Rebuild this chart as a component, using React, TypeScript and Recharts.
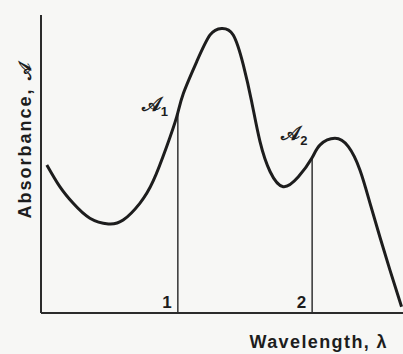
import { Label, Line, LineChart, ReferenceLine, XAxis, YAxis } from "recharts";

// wavelength in arbitrary units (0-100), absorbance in arbitrary units (0-100)
const wavelengths = [
  1.6, 5.2, 8.9, 13.5, 18.6, 22.7, 27.3, 31.0, 34.7, 37.5, 39.3, 43.0, 46.7, 49.9, 53.1,
  55.9, 58.2, 60.5, 63.3, 66.9, 71.1, 74.8, 77.1, 81.2, 84.9, 88.1, 90.9, 93.6, 96.4, 99.6,
];
const absorbance = [
  49.7, 42.4, 36.8, 31.8, 29.9, 31.2, 36.8, 44.3, 55.8, 65.9, 73.6, 84.3, 93.3, 95.5, 93.3,
  83.2, 70.9, 57.5, 47.4, 42.4, 45.7, 51.9, 56.4, 58.6, 55.8, 48.0, 36.8, 25.6, 14.4, 2.1,
];
const markerWavelengths = [37.8, 74.9];
const markerAbsorbance = [67.5, 52];
const markerTicks = ["1", "2"];

const rows = wavelengths.map((w, i) => ({ wavelength: w, absorbance: absorbance[i] }));

const INK = "#1d1d1d";
const FONT = "'Liberation Sans', Arial, sans-serif";

function markerLabel(index: number, dx: number, dy: number) {
  return (props: any) => {
    const vb = props.viewBox ?? {};
    const x = vb.x ?? 0;
    const top = vb.y ?? 0;
    const bottom = top + (vb.height ?? 0);
    return (
      <g>
        <text
          x={x - 6}
          y={bottom - 5}
          textAnchor="end"
          fontFamily={FONT}
          fontSize={17}
          fontWeight={600}
          fill={INK}
        >
          {markerTicks[index]}
        </text>
        <text x={x + dx} y={top + dy} fontFamily={FONT} fontSize={20} fontWeight={700} fill={INK}>
          𝒜
          <tspan fontSize={13} dy={5}>
            {markerTicks[index]}
          </tspan>
        </text>
      </g>
    );
  };
}

export default function App() {
  return (
    <div style={{ width: 403, height: 354, background: "#f7f7f5" }}>
      <style>{"body{margin:0}"}</style>
      <LineChart width={403} height={354} data={rows} margin={{ top: 15, right: 0, bottom: 0, left: 0 }}>
        <XAxis
          type="number"
          dataKey="wavelength"
          domain={[0, 100]}
          height={41}
          tick={false}
          tickLine={false}
          axisLine={{ stroke: "#2b2b2b", strokeWidth: 2 }}
        >
          <Label
            content={(props: any) => {
              const vb = props.viewBox ?? {};
              return (
                <text
                  x={vb.x + vb.width - 15}
                  y={vb.y + 35}
                  textAnchor="end"
                  fontFamily={FONT}
                  fontSize={18}
                  fontWeight={600}
                  letterSpacing={1.4}
                  fill={INK}
                >
                  Wavelength, λ
                </text>
              );
            }}
          />
        </XAxis>
        <YAxis
          type="number"
          domain={[0, 100]}
          width={41}
          tick={false}
          tickLine={false}
          axisLine={{ stroke: "#2b2b2b", strokeWidth: 2 }}
        >
          <Label
            content={(props: any) => {
              const vb = props.viewBox ?? {};
              const cx = vb.x + 25;
              const cy = vb.y + 125;
              return (
                <text
                  x={cx}
                  y={cy}
                  transform={`rotate(-90 ${cx} ${cy})`}
                  textAnchor="middle"
                  dominantBaseline="central"
                  fontFamily={FONT}
                  fontSize={18}
                  fontWeight={600}
                  letterSpacing={2}
                  fill={INK}
                >
                  Absorbance, 𝒜
                </text>
              );
            }}
          />
        </YAxis>
        {markerWavelengths.map((w, i) => (
          <ReferenceLine
            key={i}
            segment={[
              { x: w, y: 0 },
              { x: w, y: markerAbsorbance[i] },
            ]}
            stroke="#333"
            strokeWidth={1.5}
            label={i === 0 ? markerLabel(0, -36, -1) : markerLabel(1, -31, -18)}
          />
        ))}
        <Line
          type="natural"
          dataKey="absorbance"
          stroke={INK}
          strokeWidth={3}
          dot={false}
          isAnimationActive={false}
        />
      </LineChart>
    </div>
  );
}
